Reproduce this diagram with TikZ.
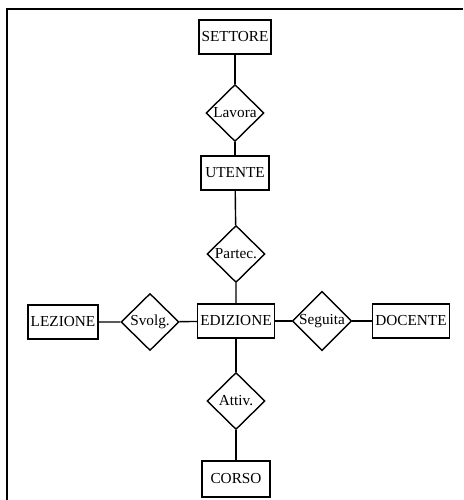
\documentclass[tikz,border=0pt]{standalone}
\usepackage{fontspec}
\setmainfont{Liberation Serif}
\usepackage{tikz}
\usetikzlibrary{shapes.geometric}

\tikzset{
  entity/.style={draw, rectangle, line width=0.8pt, inner xsep=1.5pt, inner ysep=0pt,
    minimum width=1.36cm, minimum height=0.68cm, font=\fontsize{8.7}{10}\selectfont},
  relation/.style={draw, diamond, aspect=1, line width=0.8pt, inner sep=0pt,
    minimum width=1.16cm, minimum height=1.14cm, font=\fontsize{8.7}{10}\selectfont},
  link/.style={line width=0.8pt}
}

\begin{document}
\begin{tikzpicture}[x=0.02cm, y=-0.02cm]
  \useasboundingbox (0,0) rectangle (463,500);
  % frame
  \draw[line width=1.4pt] (463,9) -- (7,9) -- (7,500);

  \node[entity] (settore) at (235,37) {SETTORE};
  \node[relation] (lavora) at (235,113) {Lavora};
  \node[entity] (utente) at (235,173) {UTENTE};
  \node[relation] (partec) at (236,254) {Partec.};
  \node[entity] (edizione) at (236,321) {EDIZIONE};
  \node[relation] (svolg) at (150,322) {Svolg.};
  \node[entity] (lezione) at (63,322) {LEZIONE};
  \node[relation] (seguita) at (322,321) {Seguita};
  \node[entity] (docente) at (411,321) {DOCENTE};
  \node[relation] (attiv) at (236,401) {Attiv.};
  \node[entity, minimum height=0.72cm] (corso) at (236,479) {CORSO};

  \draw[link] (settore) -- (lavora) -- (utente);
  \draw[link] (utente) -- (partec) -- (edizione);
  \draw[link] (lezione) -- (svolg) -- (edizione);
  \draw[link] (edizione) -- (seguita) -- (docente);
  \draw[link] (edizione) -- (attiv) -- (corso);
\end{tikzpicture}
\end{document}
